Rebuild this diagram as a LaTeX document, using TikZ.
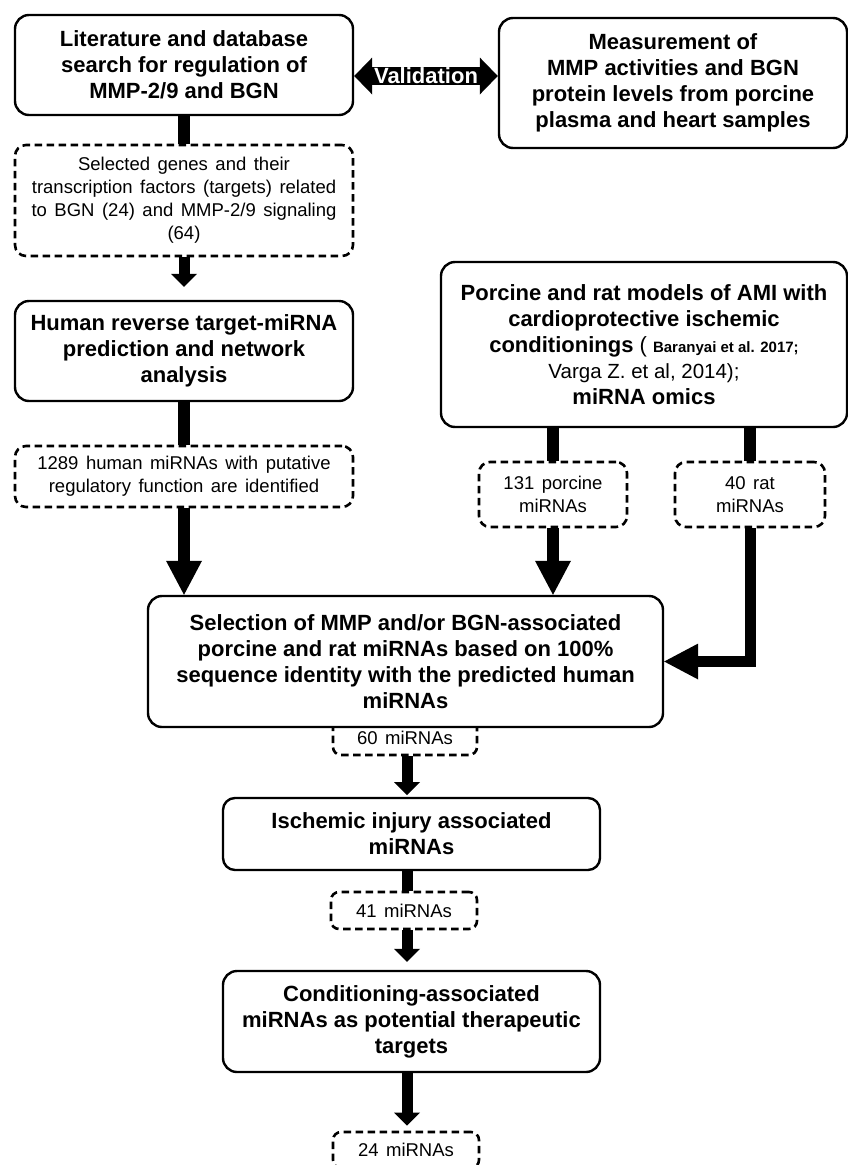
\documentclass[tikz,border=0pt]{standalone}
\usepackage{fontspec}
\setmainfont{Liberation Sans}
\usetikzlibrary{arrows.meta}

\newcommand\widespaces{\spaceskip=7.5pt plus 2pt minus 1pt\relax}

\tikzset{
  box/.style={draw, line width=2.4pt, rounded corners=14pt, fill=white, align=center,
    inner sep=0pt, font=\fontsize{22}{26}\selectfont\bfseries},
  dbox/.style={draw, line width=2.6pt, dash pattern=on 7.5pt off 4.5pt, rounded corners=11pt,
    fill=white, align=center, inner sep=0pt, font=\fontsize{18.5}{23}\selectfont\widespaces},
  link/.style={line width=12pt},
  flow/.style={line width=11pt, -{Triangle[length=13pt,width=26pt,line width=0pt]}},
  bigflow/.style={line width=12pt, -{Triangle[length=34pt,width=36pt,line width=0pt]}},
  valarrow/.style={line width=18pt, {Triangle[length=18pt,width=37pt,line width=0pt]}-{Triangle[length=18pt,width=37pt,line width=0pt]}},
  valtext/.style={text=white, inner sep=0pt, font=\fontsize{22}{26}\selectfont\bfseries}
}

\begin{document}
\begin{tikzpicture}[x=1pt,y=-1pt]
    \useasboundingbox (0,0) rectangle (848,1165);

    % left column
    \node[box, minimum width=338pt, minimum height=100pt] (lit) at (184,65)
        {Literature and database\\search for regulation of\\MMP-2/9 and BGN};
    \node[box, minimum width=348pt, minimum height=130pt] (meas) at (673,83)
        {Measurement of\\MMP activities and BGN\\protein levels from porcine\\plasma and heart samples};
    \node[dbox, minimum width=338pt, minimum height=111pt] (genes) at (184,200.5)
        {Selected genes and their\\transcription factors (targets) related\\to BGN (24) and MMP-2/9 signaling\\(64)};
    \node[box, minimum width=338pt, minimum height=100pt] (human) at (184,351)
        {Human reverse target-miRNA\\prediction and network\\analysis};
    \node[dbox, minimum width=338pt, minimum height=61pt] (hmirna) at (184,476.5)
        {1289 human miRNAs with putative\\regulatory function are identified};

    % right column
    \node[box, minimum width=406pt, minimum height=165pt] (models) at (644,344.5)
        {Porcine and rat models of AMI with\\cardioprotective ischemic\\conditionings {\mdseries(} {\fontsize{15}{18}\selectfont Baranyai et al. 2017;}\\{\mdseries\fontsize{20.5}{26}\selectfont Varga Z. et al, 2014);}\\miRNA omics};
    \node[dbox, minimum width=148pt, minimum height=65pt] (pmirna) at (553,494.5)
        {131 porcine\\miRNAs};
    \node[dbox, minimum width=150pt, minimum height=65pt] (rmirna) at (750,494.5)
        {40 rat\\miRNAs};

    % centre column
    \node[dbox, minimum width=144pt, minimum height=43pt, rounded corners=8pt] (sel60) at (405,733.5)
        {\raisebox{-11pt}[0pt][0pt]{60 miRNAs}};
    \node[box, minimum width=515pt, minimum height=131pt] (select) at (405.5,661.5)
        {Selection of MMP and/or BGN-associated\\porcine and rat miRNAs based on 100\%\\sequence identity with the predicted human\\miRNAs};
    \node[box, minimum width=377pt, minimum height=72pt, rounded corners=12pt] (injury) at (411.5,834)
        {Ischemic injury associated\\miRNAs};
    \node[dbox, minimum width=146pt, minimum height=37pt, rounded corners=8pt] (sel41) at (404,910.5)
        {41 miRNAs};
    \node[box, minimum width=377pt, minimum height=101pt] (cond) at (411.5,1021.5)
        {Conditioning-associated\\miRNAs as potential therapeutic\\targets};
    \node[dbox, minimum width=146pt, minimum height=36pt, rounded corners=8pt] (sel24) at (406,1150)
        {24 miRNAs};

    % connectors
    \draw[valarrow] (lit.east |- 0,76) -- node[valtext] (val) {Validation} (meas.west |- 0,76);
    \draw[link] (lit.south) -- (genes.north);
    \draw[flow, shorten >=13pt] (genes.south) -- (human.north);
    \draw[link] (human.south) -- (hmirna.north);
    \draw[bigflow] (hmirna.south) -- (hmirna.south |- select.north);
    \draw[link] (pmirna.north |- models.south) -- (pmirna.north);
    \draw[link] (rmirna.north |- models.south) -- (rmirna.north);
    \draw[bigflow] (pmirna.south) -- (pmirna.south |- select.north);
    \draw[bigflow, line width=11pt] (rmirna.south) |- (select.east);
    \draw[flow, shorten >=3pt] (sel60.south -| 407,0) -- (407,798);
    \draw[link, line width=11pt] (injury.south -| 407,0) -- (sel41.north -| 407,0);
    \draw[flow, shorten >=8pt] (sel41.south -| 407,0) -- (cond.north -| 407,0);
    \draw[flow, shorten >=5pt] (cond.south -| 407,0) -- (sel24.north -| 407,0);
\end{tikzpicture}
\end{document}
